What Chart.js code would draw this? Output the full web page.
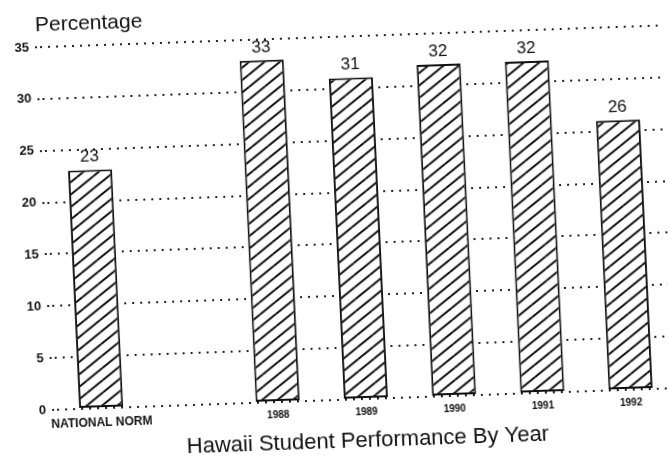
<!DOCTYPE html>
<html>
<head>
<meta charset="utf-8">
<script src="https://cdn.jsdelivr.net/npm/chart.js@4"></script>
<style>
  html, body { margin: 0; padding: 0; background: #fff; overflow: hidden; }
  #wrap { position: absolute; left: 0; top: 0; width: 668px; height: 462px; transform: rotate(-2deg) skewX(0.7deg); transform-origin: 50% 50%; }
  canvas { display: block; }
</style>
</head>
<body>
<div id="wrap"><canvas id="c" width="668" height="462"></canvas></div>
<script>
const categories = ['NATIONAL NORM', '', '1988', '1989', '1990', '1991', '1992'];
const percentages = [23, null, 33, 31, 32, 32, 26];
const yMin = 0;
const yMax = 35;
const yStep = 5;
const yLabel = 'Percentage';
const xLabel = 'Hawaii Student Performance By Year';

const FONT = "'Liberation Sans', Arial, Helvetica, sans-serif";
const ctx = document.getElementById('c').getContext('2d');

function hatchPattern() {
  const w = 16, h = 12;
  const c = document.createElement('canvas');
  c.width = w; c.height = h;
  const g = c.getContext('2d');
  g.fillStyle = '#fff';
  g.fillRect(0, 0, w, h);
  g.strokeStyle = '#111';
  g.lineWidth = 2;
  for (const [ox, oy] of [[0, 0], [-w, 0], [w, 0], [0, -h], [0, h]]) {
    g.beginPath();
    g.moveTo(ox, oy + h);
    g.lineTo(ox + w, oy);
    g.stroke();
  }
  return ctx.createPattern(c, 'repeat');
}

const bgPlugin = {
  id: 'bg',
  beforeDraw(chart) {
    const c = chart.ctx;
    c.save();
    c.fillStyle = '#fff';
    c.fillRect(0, 0, chart.width, chart.height);
    c.restore();
  }
};

const labelPlugin = {
  id: 'valueLabels',
  afterDatasetsDraw(chart) {
    const c = chart.ctx;
    const meta = chart.getDatasetMeta(0);
    c.save();
    c.fillStyle = '#111';
    c.font = '17px ' + FONT;
    c.textAlign = 'center';
    c.textBaseline = 'alphabetic';
    meta.data.forEach((el, i) => {
      const v = percentages[i];
      if (v === null || v === undefined) return;
      c.fillText(String(v), el.x, el.y - 8);
    });
    // axis label at top-left
    c.font = '21px ' + FONT;
    c.textAlign = 'left';
    c.textBaseline = 'middle';
    c.fillText(yLabel, chart.chartArea.left - 4, 15);
    c.restore();
  }
};

new Chart(ctx, {
  type: 'bar',
  data: {
    labels: categories,
    datasets: [{
      data: percentages,
      backgroundColor: hatchPattern(),
      borderColor: '#111',
      borderWidth: 2,
      borderSkipped: false,
      barPercentage: 0.5,
      categoryPercentage: 1.0
    }]
  },
  options: {
    responsive: false,
    animation: false,
    devicePixelRatio: 1,
    layout: { padding: { top: 37, right: 1, left: 0, bottom: 0 } },
    plugins: {
      legend: { display: false },
      tooltip: { enabled: false },
      title: { display: false }
    },
    scales: {
      x: {
        grid: { display: false, drawTicks: false },
        border: { display: false },
        afterFit(scale) { scale.height = 62; },
        ticks: {
          color: '#111',
          padding: 7,
          maxRotation: 0,
          autoSkip: false,
          font: (c) => ({ family: FONT, size: c.index === 0 ? 12 : 10, weight: 'bold' })
        },
        title: {
          display: true,
          text: xLabel,
          color: '#111',
          font: { family: FONT, size: 22 },
          padding: { top: 0, bottom: 7 }
        }
      },
      y: {
        min: yMin,
        max: yMax,
        afterFit(scale) { scale.width = 49; },
        ticks: {
          stepSize: yStep,
          color: '#111',
          padding: 6,
          font: { family: FONT, size: 13, weight: 'bold' }
        },
        grid: {
          color: '#222',
          lineWidth: 2,
          tickBorderDash: [2, 6],
          drawTicks: true,
          tickLength: 5
        },
        border: { display: false, dash: [2, 6] }
      }
    }
  },
  plugins: [bgPlugin, labelPlugin]
});
</script>
</body>
</html>
